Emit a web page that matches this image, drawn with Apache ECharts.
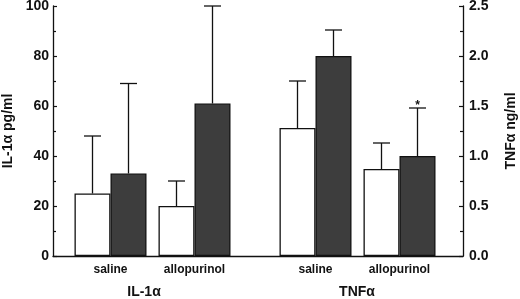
<!DOCTYPE html>
<html>
<head>
<meta charset="utf-8">
<script src="https://cdn.jsdelivr.net/npm/echarts@6/dist/echarts.min.js"></script>
<style>
  html, body { margin: 0; padding: 0; background: #fff; }
  #chart { width: 520px; height: 299px; }
</style>
</head>
<body>
<div id="chart"></div>
<script>
const groups = ["IL-1α", "TNFα"]
const treatments = ["saline", "allopurinol"]

// IL-1α, pg/ml (left axis)
const il1Open = [25, 20]
const il1OpenSd = [23, 10]
const il1Filled = [33, 61]
const il1FilledSd = [36, 39]

// TNFα, ng/ml (right axis)
const tnfOpen = [1.28, 0.87]
const tnfOpenSd = [0.47, 0.26]
const tnfFilled = [2.0, 1.0]
const tnfFilledSd = [0.26, 0.48]
const tnfFilledMark = ["", "*"]

const il1Axis = { min: 0, max: 100, step: 20 }
const tnfAxis = { min: 0, max: 2.5, step: 0.5 }

// layout
const FONT = "Liberation Sans"
const INK = "#111"
const DARK = "#3d3d3d"
const BAR_W = 36
const GAP_W = 12
const TAIL_W = 6
const CAP_W = 17
const slotWidths = [BAR_W, BAR_W, GAP_W, BAR_W, BAR_W, TAIL_W]
const slotTotal = slotWidths.reduce((a, b) => a + b, 0)
const slotCenter = []
let acc = -slotTotal / 2
slotWidths.forEach((w) => {
  slotCenter.push(acc + w / 2)
  acc += w
})

const chart = echarts.init(document.getElementById("chart"))

const groupData = [
  { open: il1Open, openSd: il1OpenSd, filled: il1Filled, filledSd: il1FilledSd, marks: ["", ""] },
  { open: tnfOpen, openSd: tnfOpenSd, filled: tnfFilled, filledSd: tnfFilledSd, marks: tnfFilledMark },
]

const onlyIn = (g, v) => groups.map((_, i) => (i === g ? v : "-"))

const series = []
groupData.forEach((gd, g) => {
  const axisRef = { xAxisIndex: g, yAxisIndex: g }
  const slots = [
    { kind: "open", t: 0 },
    { kind: "filled", t: 0 },
    { kind: "gap" },
    { kind: "open", t: 1 },
    { kind: "filled", t: 1 },
    { kind: "gap" },
  ]
  const errItems = []
  slots.forEach((s, si) => {
    if (s.kind === "gap") {
      series.push({
        type: "bar",
        ...axisRef,
        barWidth: slotWidths[si],
        barGap: 0,
        data: onlyIn(g, "-"),
        silent: true,
      })
      return
    }
    const isOpen = s.kind === "open"
    const mean = isOpen ? gd.open[s.t] : gd.filled[s.t]
    const sd = isOpen ? gd.openSd[s.t] : gd.filledSd[s.t]
    series.push({
      type: "bar",
      ...axisRef,
      barWidth: slotWidths[si],
      barGap: 0,
      data: onlyIn(g, mean),
      itemStyle: {
        color: isOpen ? "#fff" : DARK,
        borderColor: INK,
        borderWidth: 1.3,
      },
      label: {
        show: isOpen,
        position: "bottom",
        distance: 8,
        offset: [BAR_W / 2, 0],
        formatter: treatments[s.t],
        fontFamily: FONT,
        fontWeight: "bold",
        fontSize: 12,
        color: INK,
      },
      emphasis: { disabled: true },
    })
    errItems.push({ mean, sd, slot: si, mark: isOpen ? "" : gd.marks[s.t] })
  })

  series.push({
    type: "custom",
    ...axisRef,
    silent: true,
    data: errItems.map((it) => [g, it.mean, it.sd]),
    renderItem: (params, api) => {
      const it = errItems[params.dataIndex]
      const base = api.coord([g, it.mean])
      const top = api.coord([g, it.mean + it.sd])
      const x = base[0] + slotCenter[it.slot]
      const style = { stroke: INK, lineWidth: 1.3 }
      const children = [
        { type: "line", shape: { x1: x, y1: base[1], x2: x, y2: top[1] }, style },
        { type: "line", shape: { x1: x - CAP_W / 2, y1: top[1], x2: x + CAP_W / 2, y2: top[1] }, style },
      ]
      if (it.mark) {
        children.push({
          type: "text",
          style: {
            text: it.mark,
            x: x,
            y: top[1] + 4,
            align: "center",
            verticalAlign: "bottom",
            font: "bold 12px " + FONT,
            fill: INK,
          },
        })
      }
      return { type: "group", children }
    },
  })
})

const valueAxis = (ax, pos, name, gap, fmt) => ({
  type: "value",
  position: pos,
  min: ax.min,
  max: ax.max,
  interval: ax.step,
  name: name,
  nameLocation: "middle",
  nameRotate: 90,
  nameGap: gap,
  nameTextStyle: { fontFamily: FONT, fontWeight: "bold", fontSize: 14, color: INK },
  axisLine: { show: true, lineStyle: { color: INK, width: 1.3 } },
  axisTick: { show: true, inside: true, length: 4, lineStyle: { color: INK, width: 1.2 } },
  minorTick: { show: true, splitNumber: 2, length: 3, lineStyle: { color: INK, width: 1.2 } },
  splitLine: { show: false },
  axisLabel: {
    margin: pos === "left" ? 4 : 6,
    fontFamily: FONT,
    fontWeight: "bold",
    fontSize: 14,
    color: INK,
    formatter: fmt,
  },
})

const option = {
  animation: false,
  grid: { left: 53, right: 57, top: 6, bottom: 43, outerBoundsMode: "none" },
  xAxis: [
    {
      type: "category",
      data: [
        { value: groups[0], textStyle: { padding: [0, 23, 0, 0] } },
        { value: groups[1], textStyle: { padding: [0, 7, 0, 0] } },
      ],
      axisLine: { show: true, lineStyle: { color: INK, width: 1.3 } },
      axisTick: { show: false },
      splitLine: { show: false },
      axisLabel: {
        interval: 0,
        margin: 29,
        fontFamily: FONT,
        fontWeight: "bold",
        fontSize: 14,
        color: INK,
      },
    },
    { type: "category", data: groups, show: false },
  ],
  yAxis: [
    valueAxis(il1Axis, "left", "IL-1α pg/ml", 37, (v) => String(v)),
    valueAxis(tnfAxis, "right", "TNFα ng/ml", 41, (v) => v.toFixed(1)),
  ],
  series: series,
}

chart.setOption(option)
</script>
</body>
</html>
